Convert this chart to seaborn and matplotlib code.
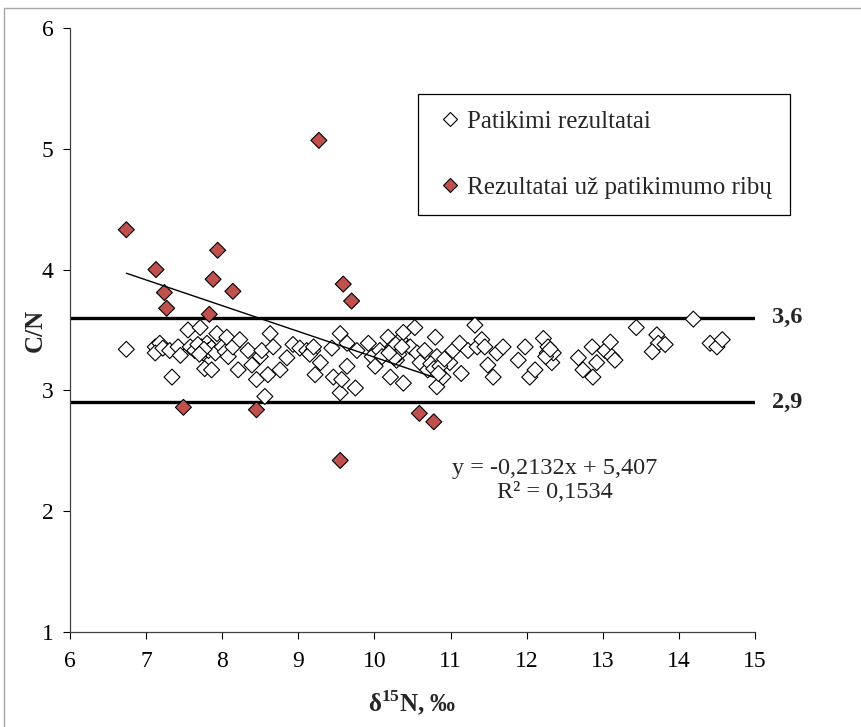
import numpy as np
import pandas as pd
import matplotlib
matplotlib.use("Agg")
import matplotlib.pyplot as plt
from matplotlib.lines import Line2D
import seaborn as sns

# Reliable results (δ15N, C/N)
reliable_x = [6.74, 7.12, 7.18, 7.12, 7.22, 7.31, 7.34, 7.42, 7.45, 7.55, 7.58, 7.64,
              7.71, 7.73, 7.75, 7.80, 7.82, 7.77, 7.86, 7.86, 7.91, 7.93, 8.00, 8.04,
              8.06, 8.08, 8.14, 8.21, 8.23, 8.34, 8.39, 8.45, 8.50, 8.52, 8.56, 8.60,
              8.63, 8.67, 8.76, 8.85, 8.93, 9.02, 9.11, 9.19, 9.22, 9.29, 9.44, 9.46,
              9.55, 9.55, 9.57, 9.64, 9.64, 9.75, 9.77, 9.92, 9.97, 10.01, 10.07, 10.10,
              10.18, 10.21, 10.24, 10.29, 10.34, 10.38, 10.38, 10.47, 10.53, 10.56, 10.60,
              10.66, 10.70, 10.80, 10.82, 10.82, 10.90, 10.99, 11.03, 11.12, 11.14, 11.23,
              11.32, 11.35, 11.41, 11.45, 11.49, 11.56, 11.61, 11.69, 11.89, 11.98, 12.04,
              12.11, 12.22, 12.27, 12.28, 12.33, 12.35, 12.68, 12.74, 12.86, 12.87, 12.92,
              13.03, 13.10, 13.12, 13.16, 13.44, 13.71, 13.73, 13.65, 13.82, 14.19, 14.41,
              14.50, 14.57, 7.68, 7.76, 7.70, 10.22, 10.28, 10.32, 10.26, 10.36, 10.19,
              10.74, 10.78, 10.86, 10.84, 10.92, 12.25, 12.31, 9.15, 9.20]
reliable_y = [3.34, 3.36, 3.39, 3.31, 3.35, 3.33, 3.11, 3.36, 3.29, 3.50, 3.36, 3.33,
              3.52, 3.36, 3.31, 3.39, 3.33, 3.18, 3.17, 3.35, 3.31, 3.47, 3.36, 3.32,
              3.44, 3.28, 3.36, 3.17, 3.42, 3.33, 3.21, 3.09, 3.28, 3.33, 2.95, 3.13,
              3.47, 3.36, 3.17, 3.27, 3.38, 3.35, 3.33, 3.33, 3.13, 3.23, 3.35, 3.11,
              3.47, 2.98, 3.09, 3.20, 3.39, 3.02, 3.33, 3.39, 3.28, 3.20, 3.33, 3.28,
              3.44, 3.11, 3.36, 3.25, 3.42, 3.06, 3.48, 3.36, 3.52, 3.31, 3.23,
              3.33, 3.17, 3.44, 3.03, 3.28, 3.11, 3.23, 3.33, 3.39, 3.14, 3.33,
              3.54, 3.36, 3.42, 3.36, 3.21, 3.11, 3.31, 3.36, 3.25, 3.36, 3.11,
              3.17, 3.43, 3.31, 3.36, 3.23, 3.31, 3.27, 3.17, 3.36, 3.11, 3.23,
              3.33, 3.40, 3.28, 3.25, 3.52, 3.46, 3.39, 3.32, 3.38, 3.59, 3.39,
              3.36, 3.42, 3.38, 3.34, 3.30, 3.33, 3.38, 3.30, 3.27, 3.36, 3.31,
              3.22, 3.18, 3.20, 3.14, 3.26, 3.28, 3.34, 3.30, 3.36]

# Results outside the reliability limits
outlier_x = [6.74, 7.13, 7.24, 7.27, 7.49, 7.83, 7.88, 7.94, 8.14, 8.45,
             9.27, 9.55, 9.59, 9.70, 10.59, 10.78]
outlier_y = [4.33, 4.00, 3.81, 3.68, 2.86, 3.63, 3.92, 4.16, 3.82, 2.84,
             5.07, 2.42, 3.88, 3.74, 2.81, 2.74]

# Reliability limits and trend line of the outliers
limits = [3.6, 2.9]
limit_labels = ["3,6", "2,9"]
slope, intercept = -0.2132, 5.407
r_squared_label = "R² = 0,1534"
equation_label = "y = -0,2132x + 5,407"

series_names = ["Patikimi rezultatai", "Rezultatai už patikimumo ribų"]
red = "#C0504D"

df = pd.DataFrame({
    "x": reliable_x + outlier_x,
    "y": reliable_y + outlier_y,
    "group": [series_names[0]] * len(reliable_x) + [series_names[1]] * len(outlier_x),
})

sns.set_theme(style="white")
plt.rcParams["font.family"] = ["Liberation Serif", "DejaVu Serif"]
plt.rcParams["mathtext.fontset"] = "custom"
plt.rcParams["mathtext.rm"] = "Liberation Serif"
plt.rcParams["mathtext.bf"] = "Liberation Serif:bold"

fig = plt.figure(figsize=(8.62, 7.27), dpi=100)
ax = fig.add_axes([70 / 862, 1 - 632 / 727, 685 / 862, 604 / 727])

# reliability limits
for v in limits:
    ax.axhline(v, color="black", lw=2.4, zorder=1)

sns.scatterplot(data=df, x="x", y="y", hue="group", style="group",
                markers={series_names[0]: "D", series_names[1]: "D"},
                palette={series_names[0]: "white", series_names[1]: red},
                edgecolor="black", linewidth=0.8, s=66, ax=ax, legend=False, zorder=3)

# linear trend of the outliers
tx = np.array([min(outlier_x), max(outlier_x)])
ax.plot(tx, slope * tx + intercept, color="black", lw=1.0, zorder=4)

ax.set_xlim(6, 15)
ax.set_ylim(1, 6)
ax.set_xticks(range(6, 16))
ax.set_yticks(range(1, 7))
ax.tick_params(axis="both", direction="out", length=5, width=0.8, colors="black",
               labelsize=17, bottom=True, left=True)
ax.tick_params(axis="x", pad=9)
ax.tick_params(axis="y", pad=7)
for lab in ax.get_xticklabels() + ax.get_yticklabels():
    lab.set_family(["Liberation Serif", "DejaVu Serif"])
for side in ["top", "right"]:
    ax.spines[side].set_visible(False)
for side in ["left", "bottom"]:
    ax.spines[side].set_color("#404040")
    ax.spines[side].set_linewidth(0.9)

ax.set_xlabel(r"δ$^{\mathbf{15}}$N, ‰", fontsize=18, fontweight="bold", labelpad=12)
ax.set_ylabel("C/N", fontsize=18, fontweight="bold", labelpad=-4)

for v, lab in zip(limits, limit_labels):
    ax.text(15.22, v, lab, fontsize=17.5, fontweight="bold", va="center", ha="left",
            clip_on=False)

ax.text(12.37, 2.255, equation_label + "\n" + r_squared_label, fontsize=17.5,
        ha="center", va="center", linespacing=1.2)

handles = [
    Line2D([], [], ls="none", marker="D", markersize=7, markerfacecolor="white",
           markeredgecolor="black", markeredgewidth=0.8),
    Line2D([], [], ls="none", marker="D", markersize=7, markerfacecolor=red,
           markeredgecolor="black", markeredgewidth=0.8),
]
leg_x0, leg_y1, leg_w, leg_h = 418 / 862, 1 - 94 / 727, 372 / 862, 119 / 727
leg = fig.legend(handles, series_names, loc="upper left", mode="expand",
                 bbox_to_anchor=(leg_x0, leg_y1 - leg_h, leg_w, leg_h), fontsize=18,
                 frameon=True, fancybox=False, edgecolor="black", framealpha=1,
                 labelspacing=1.75, borderpad=0.65, handlelength=1.25,
                 handletextpad=0.05, borderaxespad=0)
leg.get_frame().set_linewidth(0.9)

# chart area border
fig.add_artist(Line2D([4.5 / 862, 4.5 / 862], [0, 1 - 8 / 727], color="#a6a6a6",
                      lw=1.0, transform=fig.transFigure))
fig.add_artist(Line2D([4.5 / 862, 1], [1 - 8 / 727, 1 - 8 / 727], color="#a6a6a6",
                      lw=1.0, transform=fig.transFigure))

fig.savefig("out.png", dpi=100)
